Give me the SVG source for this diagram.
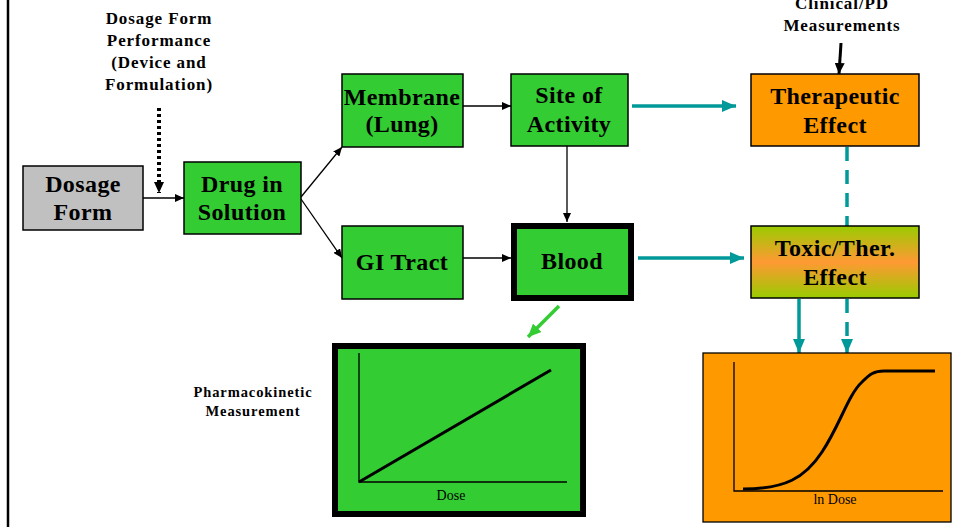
<svg xmlns="http://www.w3.org/2000/svg" width="954" height="527" viewBox="0 0 954 527">
<defs>
<style>
.box{stroke:#000;stroke-width:1.5}
.g{fill:#33CC33}
.o{fill:#FF9900}
.t{font-family:"Liberation Serif","DejaVu Serif",serif;font-weight:bold;font-size:24px;letter-spacing:0.4px;text-anchor:middle;fill:#000}
.s{font-family:"Liberation Serif","DejaVu Serif",serif;font-weight:bold;font-size:17px;letter-spacing:0.9px;text-anchor:middle;fill:#000}
.ax{font-family:"Liberation Serif","DejaVu Serif",serif;font-size:14px;text-anchor:middle;fill:#000}
.bl{stroke:#000;stroke-width:1.3;fill:none}
.tl{stroke:#009999;stroke-width:3.5;fill:none}
</style>
<marker id="ab" markerUnits="userSpaceOnUse" markerWidth="9" markerHeight="8" refX="9" refY="4" orient="auto"><path d="M0,0 L9,4 L0,8 z" fill="#000"/></marker>
<marker id="abk" markerUnits="userSpaceOnUse" markerWidth="11" markerHeight="10" refX="11" refY="5" orient="auto"><path d="M0,0 L11,5 L0,10 z" fill="#000"/></marker>
<marker id="at" markerUnits="userSpaceOnUse" markerWidth="14" markerHeight="12" refX="14" refY="6" orient="auto"><path d="M0,0 L14,6 L0,12 z" fill="#009999"/></marker>
<marker id="ag" markerUnits="userSpaceOnUse" markerWidth="13" markerHeight="12" refX="13" refY="6" orient="auto"><path d="M0,0 L13,6 L0,12 z" fill="#33CC33"/></marker>
<linearGradient id="tox" x1="0" y1="0" x2="0" y2="1">
<stop offset="0" stop-color="#99CC00"/>
<stop offset="0.5" stop-color="#FF9933"/>
<stop offset="1" stop-color="#99CC00"/>
</linearGradient>
</defs>
<rect width="954" height="527" fill="#fff"/>
<line x1="8" y1="0" x2="8" y2="527" stroke="#000" stroke-width="2.5"/>

<text class="s" x="159" y="24">Dosage Form</text>
<text class="s" x="159" y="46">Performance</text>
<text class="s" x="159" y="68">(Device and</text>
<text class="s" x="159" y="90">Formulation)</text>
<text class="s" x="842" y="9">Clinical/PD</text>
<text class="s" x="842" y="31">Measurements</text>

<g id="connectors">
<line x1="159" y1="108" x2="159" y2="193" stroke="#000" stroke-width="4" stroke-dasharray="3,3" marker-end="url(#abk)"/>
<line class="bl" x1="143" y1="198" x2="184" y2="198" marker-end="url(#ab)"/>
<line class="bl" x1="301" y1="197" x2="342" y2="147" marker-end="url(#ab)"/>
<line class="bl" x1="301" y1="199" x2="342" y2="258" marker-end="url(#ab)"/>
<line class="bl" x1="463" y1="106" x2="511" y2="106" marker-end="url(#ab)"/>
<line class="bl" x1="463" y1="258" x2="511" y2="258" marker-end="url(#ab)"/>
<line class="bl" x1="567" y1="146" x2="567" y2="222" marker-end="url(#ab)"/>
<line class="tl" x1="632" y1="106" x2="736" y2="106" marker-end="url(#at)"/>
<line class="tl" x1="638" y1="258" x2="744" y2="258" marker-end="url(#at)"/>
<line x1="841" y1="43" x2="839" y2="74" stroke="#000" stroke-width="3" marker-end="url(#abk)"/>
<line class="tl" x1="847" y1="147" x2="847" y2="226" stroke-dasharray="14,9"/>
<line class="tl" x1="847" y1="299" x2="847" y2="353" stroke-dasharray="14,9" marker-end="url(#at)"/>
<line class="tl" x1="799" y1="299" x2="799" y2="353" marker-end="url(#at)"/>
<line x1="559" y1="306" x2="528" y2="337" stroke="#33CC33" stroke-width="3.5" marker-end="url(#ag)"/>
</g>

<g id="dosage-form">
<rect class="box" x="23" y="166" width="120" height="64" fill="#C0C0C0"/>
<text class="t" x="83" y="192">Dosage</text>
<text class="t" x="83" y="220">Form</text>
</g>
<g id="drug-in-solution">
<rect class="box g" x="184" y="162" width="117" height="72"/>
<text class="t" x="242" y="192">Drug in</text>
<text class="t" x="242" y="220">Solution</text>
</g>
<g id="membrane">
<rect class="box g" x="342" y="74" width="121" height="73"/>
<text class="t" x="402" y="105">Membrane</text>
<text class="t" x="402" y="132">(Lung)</text>
</g>
<g id="site-of-activity">
<rect class="box g" x="511" y="74" width="117" height="72"/>
<text class="t" x="569" y="103">Site of</text>
<text class="t" x="569" y="132">Activity</text>
</g>
<g id="gi-tract">
<rect class="box g" x="342" y="226" width="121" height="73"/>
<text class="t" x="402" y="270">GI Tract</text>
</g>
<g id="blood">
<rect x="514" y="226" width="117" height="72" fill="#33CC33" stroke="#000" stroke-width="6"/>
<text class="t" x="572" y="269">Blood</text>
</g>
<g id="therapeutic-effect">
<rect class="box o" x="751" y="74" width="168" height="72"/>
<text class="t" x="835" y="104">Therapeutic</text>
<text class="t" x="835" y="133">Effect</text>
</g>
<g id="toxic-effect">
<rect class="box" x="751" y="226" width="168" height="72" fill="url(#tox)"/>
<text class="t" x="835" y="256">Toxic/Ther.</text>
<text class="t" x="835" y="285">Effect</text>
</g>

<g id="pk-graph">
<text class="s" x="253" y="397" style="font-size:14.5px;letter-spacing:0.9px">Pharmacokinetic</text>
<text class="s" x="253" y="416" style="font-size:14.5px;letter-spacing:0.9px">Measurement</text>
<rect x="335" y="346" width="248" height="168" fill="#33CC33" stroke="#000" stroke-width="6"/>
<polyline points="359,353 359,482 567,482" fill="none" stroke="#000" stroke-width="1.3"/>
<line x1="359" y1="482" x2="551" y2="370" stroke="#000" stroke-width="3"/>
<text class="ax" x="451" y="500">Dose</text>
</g>

<g id="pd-graph">
<rect x="703" y="353" width="248" height="169" fill="#FF9900" stroke="#000" stroke-width="1.3"/>
<polyline points="734,362 734,491 943,491" fill="none" stroke="#000" stroke-width="1.3"/>
<path d="M743,489 C785,489 805,478 822,452 C840,425 848,395 862,382 C870,374 874,371 884,371 L935,371" fill="none" stroke="#000" stroke-width="3"/>
<text class="ax" x="835" y="504">ln Dose</text>
</g>
</svg>
